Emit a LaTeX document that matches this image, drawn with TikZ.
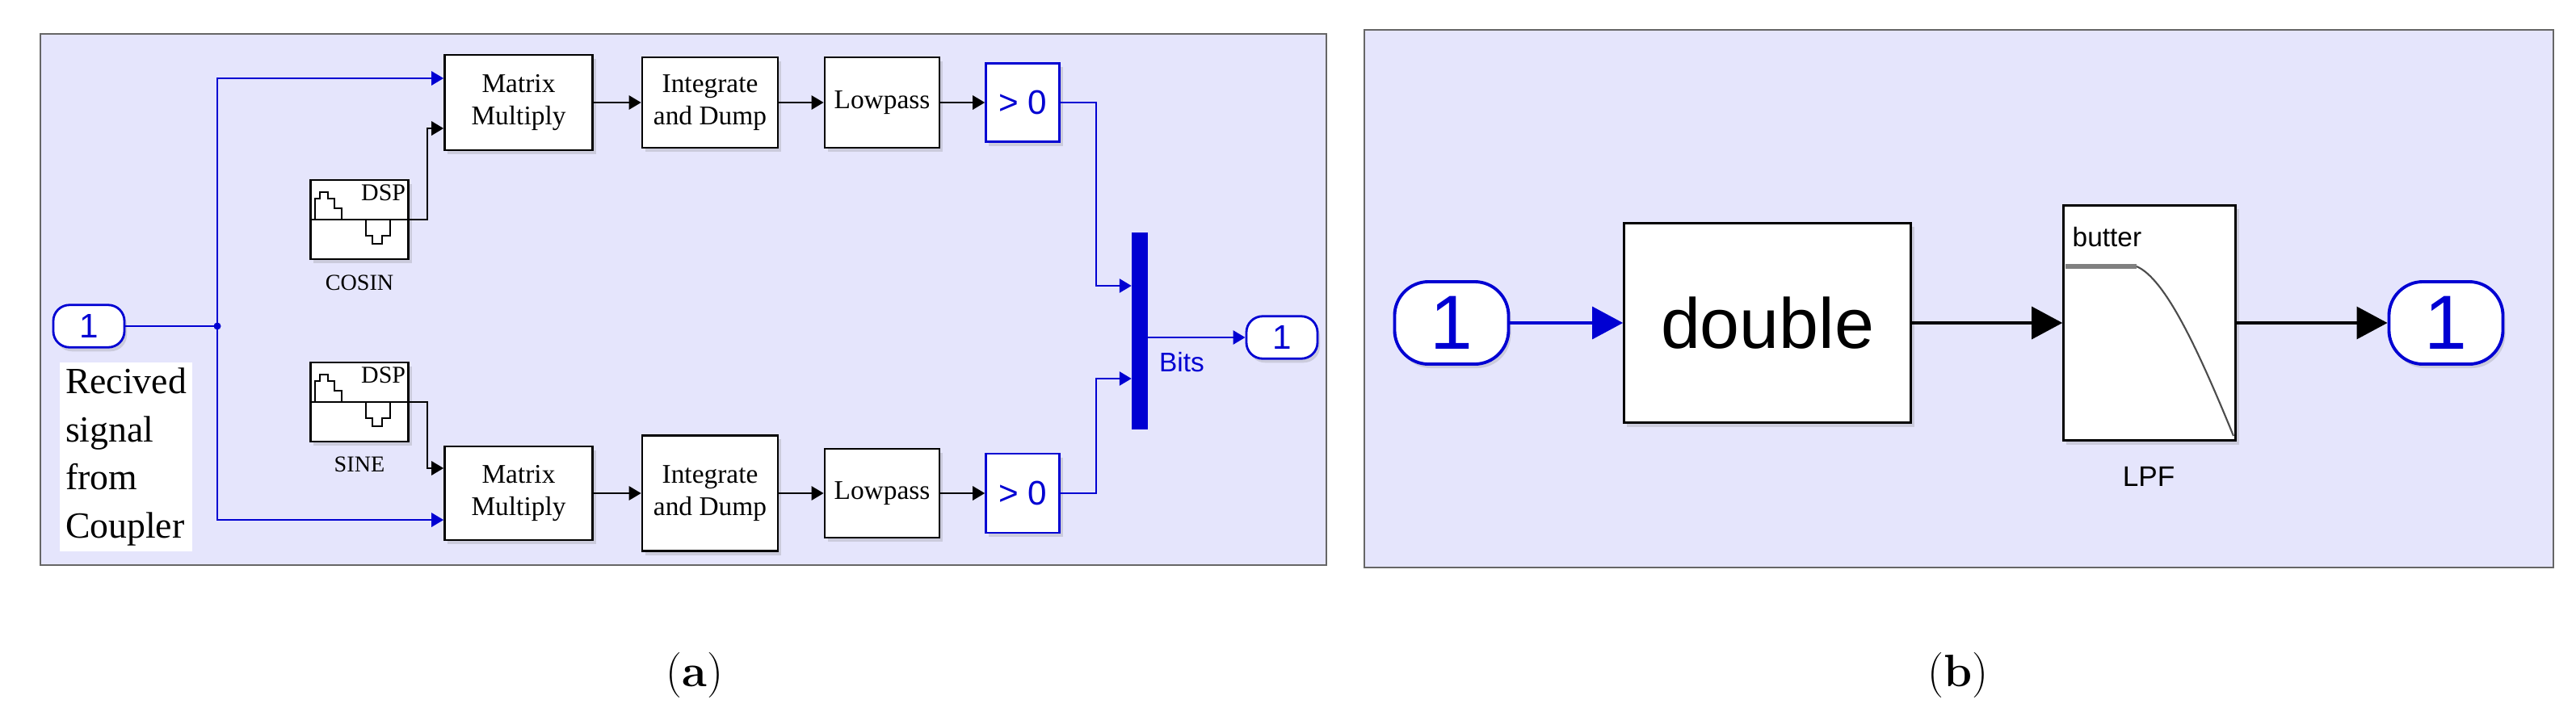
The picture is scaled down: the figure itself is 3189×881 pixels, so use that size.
\documentclass[tikz,border=0pt]{standalone}
\usepackage{fontspec}
\newfontfamily\simserif{Liberation Serif}
\newfontfamily\simsans{Liberation Sans}
\usetikzlibrary{arrows.meta,shadows}
\definecolor{panelbg}{RGB}{229,229,252}
\definecolor{simblue}{RGB}{0,0,210}
\tikzset{
  panel/.style={draw=gray!80!black, line width=0.6pt, fill=panelbg},
  blk/.style={draw=black, line width=0.7pt, fill=white, align=center,
    font=\simserif\fontsize{9.5}{11.5}\selectfont,
    drop shadow={shadow xshift=0.04cm, shadow yshift=-0.05cm, opacity=0.25}},
  bblk/.style={blk, draw=simblue, text=simblue, font=\simsans\fontsize{12}{14}\selectfont},
  port/.style={draw=simblue, line width=0.8pt, fill=white, text=simblue, rounded corners=0.2cm,
    font=\simsans\fontsize{12}{14}\selectfont, minimum width=0.88cm, minimum height=0.48cm,
    drop shadow={shadow xshift=0.03cm, shadow yshift=-0.05cm, opacity=0.25}},
  bigport/.style={port, rounded corners=0.42cm, line width=1.1pt, minimum width=1.41cm,
    minimum height=1.02cm, font=\simsans\fontsize{27}{30}\selectfont},
  sig/.style={draw=simblue, line width=0.8pt, -{Triangle[length=0.15cm,width=0.17cm]}},
  wire/.style={draw=black, line width=0.8pt, -{Triangle[length=0.15cm,width=0.17cm]}},
  bigsig/.style={line width=0.9pt, -{Triangle[length=0.38cm,width=0.4cm]}},
}
\begin{document}
\begin{tikzpicture}[x=0.01cm,y=-0.01cm]
\useasboundingbox (0,0) rectangle (3189,881);
% panel (a)
\draw[panel] (50,42) rectangle (1642,700);
\node[port] (in1) at (110,404) {1};
\node[blk, minimum width=1.83cm, minimum height=1.18cm] (mm1) at (642,127) {Matrix\\Multiply};
\node[blk, minimum width=1.68cm, minimum height=1.12cm] (id1) at (879,127) {Integrate\\and Dump};
\node[blk, minimum width=1.36cm, minimum height=1.12cm] (lp1) at (1092,127) {Lowpass};
\node[bblk, minimum width=0.91cm, minimum height=0.97cm] (gt1) at (1266,127) {> 0};
\node[blk, minimum width=1.83cm, minimum height=1.16cm] (mm2) at (642,611) {Matrix\\Multiply};
\node[blk, minimum width=1.68cm, minimum height=1.43cm] (id2) at (879,611) {Integrate\\and Dump};
\node[blk, minimum width=1.36cm, minimum height=1.10cm] (lp2) at (1092,611) {Lowpass};
\node[bblk, minimum width=0.91cm, minimum height=0.98cm] (gt2) at (1266,611) {> 0};
\node[blk, minimum width=1.21cm, minimum height=0.98cm] (cos) at (445,272) {};
\node[blk, minimum width=1.21cm, minimum height=0.98cm] (sine) at (445,498) {};
\node[font=\simserif\fontsize{8}{9}\selectfont] at (445,350) {COSIN};
\node[font=\simserif\fontsize{8}{9}\selectfont] at (445,575) {SINE};
\foreach \s in {cos,sine} {
  \draw[line width=0.6pt] (\s.west) -- (\s.east);
  \draw[line width=0.5pt] ([shift={(7,0)}]\s.west) |- ++(6,-26) |- ++(10,-8) |- ++(8,8) |- ++(9,12) -- ++(0,14);
  \draw[line width=0.5pt] ([shift={(70,0)}]\s.west) |- ++(8,20) |- ++(12,10) |- ++(10,-10) -- ++(0,-20);
  \node[font=\simserif\fontsize{8.5}{9}\selectfont, inner sep=0pt, anchor=north east]
    at ([shift={(-4,6)}]\s.north east) {DSP};
}
\node[draw=simblue, fill=simblue, minimum width=0.19cm, minimum height=2.43cm, inner sep=0pt] (bar) at (1411,410) {};
\node[port] (out1) at (1587,418) {1};
\node[text=simblue, font=\simsans\fontsize{9.5}{11}\selectfont] at (1463,449) {Bits};
\node[fill=white, align=left, inner sep=2pt, font=\simserif\fontsize{13}{17}\selectfont] (txt) at (156,566) {Recived\\signal\\from\\Coupler};
\coordinate (jn) at (269,404);
\coordinate (k1) at (1357,354);
\coordinate (k2) at (1357,469);
\coordinate (c1) at (529,272);
\coordinate (c2) at (529,498);
\draw[simblue, line width=0.8pt] (in1.east) -- (jn);
\fill[simblue] (jn) circle (0.045cm);
\draw[sig] (jn) |- ([yshift=0.3cm]mm1.west);
\draw[sig] (jn) |- ([yshift=-0.33cm]mm2.west);
\draw[wire] (cos.east) -- (c1) |- ([yshift=-0.32cm]mm1.west);
\draw[wire] (sine.east) -- (c2) |- ([yshift=0.31cm]mm2.west);
\draw[wire] (mm1) -- (id1);
\draw[wire] (id1) -- (lp1);
\draw[wire] (lp1) -- (gt1);
\draw[wire] (mm2) -- (id2);
\draw[wire] (id2) -- (lp2);
\draw[wire] (lp2) -- (gt2);
\draw[sig] (gt1.east) -| (k1) -- (bar.west |- k1);
\draw[sig] (gt2.east) -| (k2) -- (bar.west |- k2);
\draw[sig] (bar.east |- out1) -- (out1.west);
\node[font=\fontsize{16}{18}\selectfont] at (860,836) {(\textbf{a})};
% panel (b)
\draw[panel] (1689,37) rectangle (3161,703);
\node[bigport] (in2) at (1797,400) {1};
\node[blk, minimum width=3.55cm, minimum height=2.47cm, font=\simsans\fontsize{25}{28}\selectfont] (dbl) at (2188,400) {double};
\node[blk, minimum width=2.13cm, minimum height=2.91cm] (lpf) at (2661,400) {};
\node[bigport] (out2) at (3028,400) {1};
\node[font=\simsans\fontsize{9.5}{11}\selectfont, anchor=west, inner sep=0pt] at (2565,294) {butter};
\node[font=\simsans\fontsize{10}{12}\selectfont] at (2660,590) {LPF};
\draw[gray, line width=1.6pt] (2557,330) -- (2645,330);
\draw[gray!60!black, line width=0.6pt] (2645,330) .. controls (2680,345) and (2720,430) .. (2765,540);
\draw[bigsig, simblue] (in2.east) -- (dbl.west);
\draw[bigsig, black] (dbl.east) -- (lpf.west);
\draw[bigsig, black] (lpf.east) -- (out2.west);
\node[font=\fontsize{16}{18}\selectfont] at (2424,836) {(\textbf{b})};
\end{tikzpicture}
\end{document}
